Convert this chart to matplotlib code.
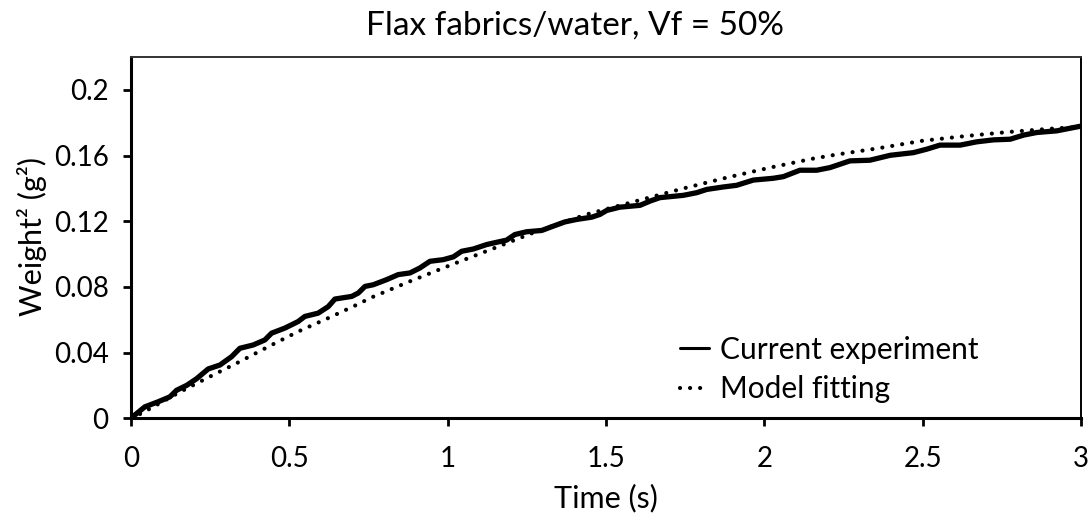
import matplotlib
matplotlib.use("Agg")
import matplotlib.pyplot as plt

plt.rcParams['font.family'] = ['Lato', 'DejaVu Sans']

# experiment (solid)
exp_t = [0.0, 0.044, 0.086, 0.123, 0.144, 0.176, 0.207, 0.244, 0.281, 0.318, 0.344,
         0.386, 0.423, 0.444, 0.486, 0.528, 0.549, 0.591, 0.623, 0.644, 0.697, 0.718,
         0.739, 0.765, 0.807, 0.844, 0.881, 0.912, 0.944, 0.986, 1.018, 1.044, 1.081,
         1.123, 1.155, 1.186, 1.212, 1.249, 1.297, 1.333, 1.370, 1.407, 1.455, 1.481,
         1.502, 1.544, 1.607, 1.639, 1.670, 1.744, 1.786, 1.818, 1.870, 1.912, 1.965,
         2.028, 2.060, 2.112, 2.165, 2.207, 2.270, 2.333, 2.397, 2.470, 2.512, 2.554,
         2.618, 2.670, 2.723, 2.776, 2.818, 2.860, 2.923, 3.0]
exp_w = [0.0, 0.0069, 0.0100, 0.0130, 0.0170, 0.0200, 0.0240, 0.0300, 0.0324, 0.0375, 0.0426,
         0.0446, 0.0477, 0.0518, 0.0549, 0.0589, 0.0620, 0.0640, 0.0680, 0.0726, 0.0742, 0.0763,
         0.0803, 0.0813, 0.0844, 0.0875, 0.0885, 0.0915, 0.0956, 0.0966, 0.0983, 0.1017, 0.1031,
         0.1058, 0.1072, 0.1085, 0.1119, 0.1136, 0.1144, 0.1170, 0.1196, 0.1211, 0.1225, 0.1242,
         0.1266, 0.1286, 0.1297, 0.1323, 0.1344, 0.1358, 0.1374, 0.1394, 0.1409, 0.1419, 0.1451,
         0.1462, 0.1472, 0.1511, 0.1511, 0.1527, 0.1568, 0.1572, 0.1602, 0.1618, 0.1639, 0.1664,
         0.1664, 0.1684, 0.1696, 0.1700, 0.1725, 0.1741, 0.1751, 0.1780]

# model fitting (dotted)
fit_t = [0.0, 0.034, 0.155, 0.249, 0.344, 0.434, 0.528, 0.623, 0.723, 0.755, 0.881, 1.013,
         1.144, 1.270, 1.439, 1.607, 1.744, 1.881, 2.018, 2.154, 2.223, 2.360, 2.497, 2.639,
         2.776, 2.918, 3.0]
fit_w = [0.0, 0.003, 0.016, 0.0253, 0.0345, 0.0436, 0.0528, 0.0610, 0.0700, 0.0732, 0.0834, 0.0936,
         0.1034, 0.1130, 0.1242, 0.1329, 0.1400, 0.1466, 0.1527, 0.1582, 0.1605, 0.1645, 0.1690, 0.1720,
         0.1745, 0.1766, 0.1775]

x_ticks = [0, 0.5, 1, 1.5, 2, 2.5, 3]
x_labels = ['0', '0.5', '1', '1.5', '2', '2.5', '3']
y_ticks = [0, 0.04, 0.08, 0.12, 0.16, 0.2]
y_labels = ['0', '0.04', '0.08', '0.12', '0.16', '0.2']

fig = plt.figure(figsize=(10.91, 5.15), dpi=100)
ax = fig.add_axes([0.120, 0.188, 0.871, 0.701])

ax.plot(exp_t, exp_w, color='black', lw=3.8, solid_capstyle='round', label='Current experiment')
ax.plot(fit_t, fit_w, color='black', lw=3.0, linestyle=(0, (0.01, 2.4)),
        dash_capstyle='round', label='Model fitting')

ax.set_xlim(0, 3)
ax.set_ylim(0, 0.22)
ax.set_xticks(x_ticks)
ax.set_xticklabels(x_labels)
ax.set_yticks(y_ticks)
ax.set_yticklabels(y_labels)
ax.tick_params(direction='out', length=6, width=2, labelsize=20)
ax.tick_params(axis='x', pad=14)
ax.tick_params(axis='y', pad=10)

for side in ['left', 'bottom']:
    ax.spines[side].set_linewidth(2.2)
for side in ['top', 'right']:
    ax.spines[side].set_linewidth(1.4)
ax.spines['top'].set_color('#333333')

fig.text(0.527, 0.951, 'Flax fabrics/water, Vf = 50%', fontsize=24, ha='center', va='center')
fig.text(0.5555, 0.033, 'Time (s)', fontsize=22, ha='center', va='center')
fig.text(0.029, 0.54, 'Weight² (g²)', fontsize=22, ha='center', va='center', rotation=90)

leg = ax.legend(loc='upper left', bbox_to_anchor=(0.578, 0.228), frameon=False, fontsize=21.5,
                handlelength=0.95, handletextpad=0.4, labelspacing=0.38,
                borderpad=0, borderaxespad=0)
leg.get_lines()[0].set_linewidth(2.2)

fig.savefig('out.png', dpi=100)
